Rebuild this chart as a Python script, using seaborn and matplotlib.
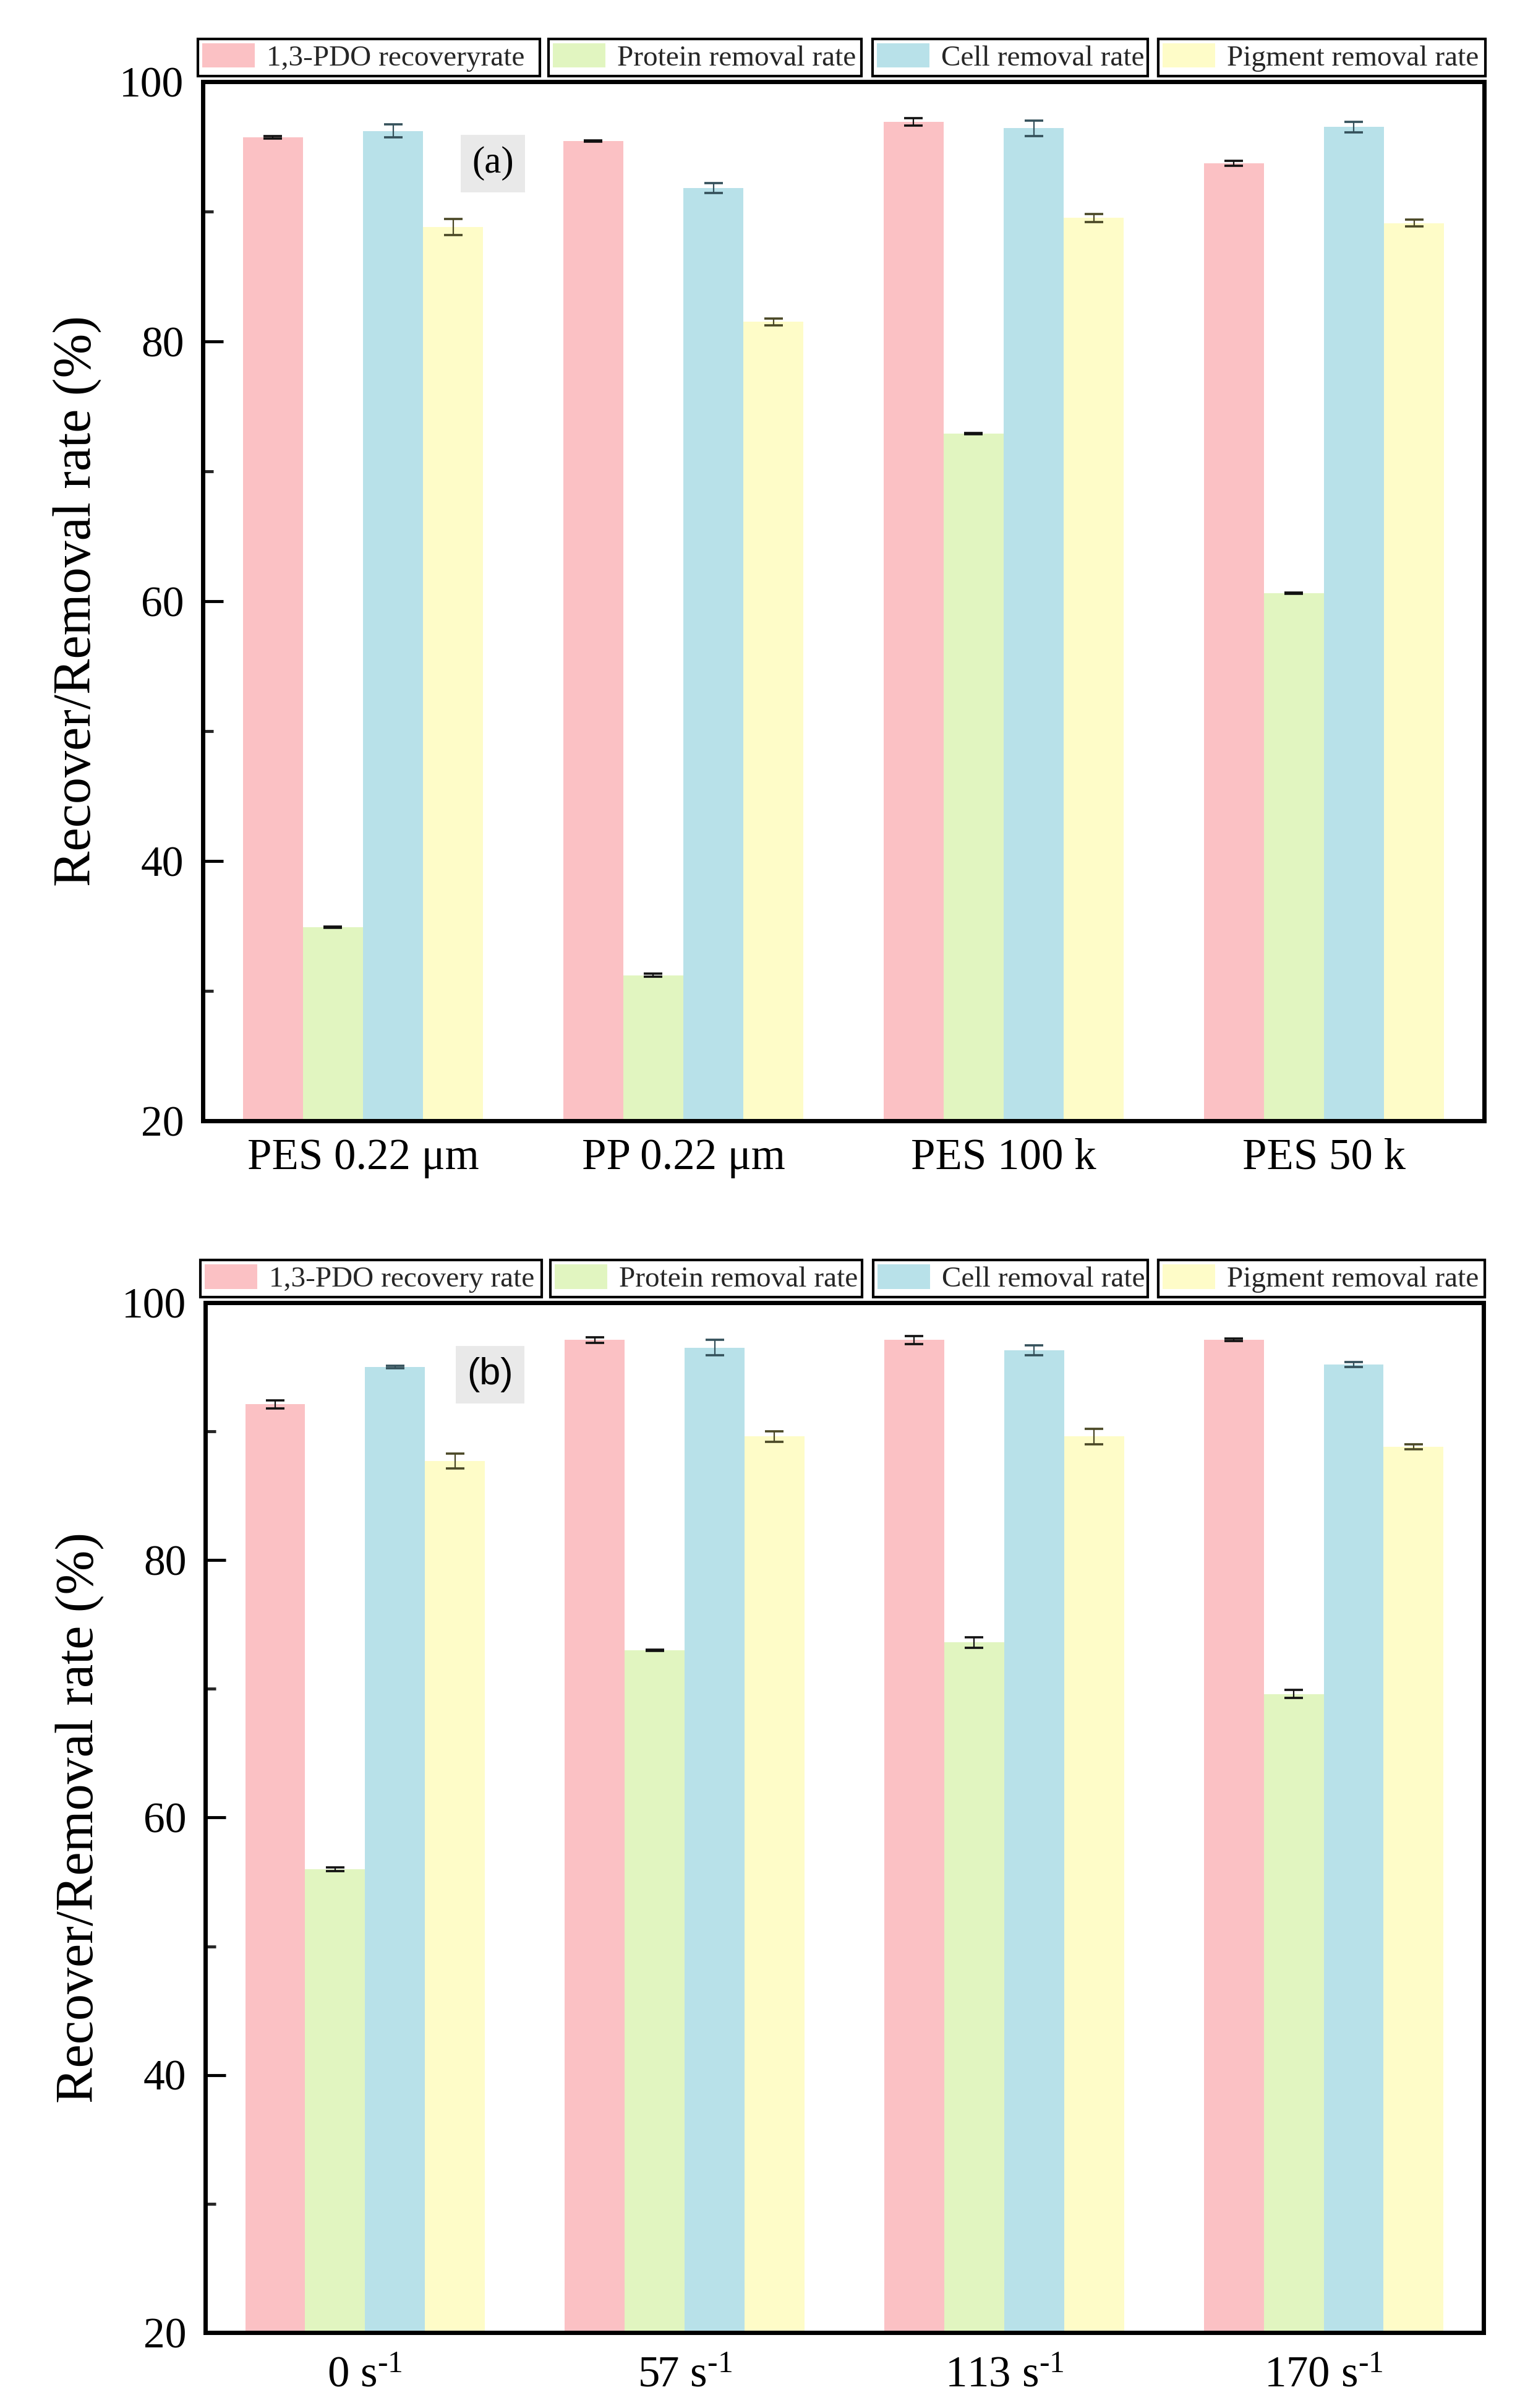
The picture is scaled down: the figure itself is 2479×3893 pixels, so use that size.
import matplotlib
matplotlib.use("Agg")
import pandas as pd
import matplotlib.pyplot as plt
from matplotlib.patches import Patch
from matplotlib.ticker import MultipleLocator
import seaborn as sns

# series names / colours
series = ["1,3-PDO recovery rate", "Protein removal rate", "Cell removal rate", "Pigment removal rate"]
legend_a = ["1,3-PDO recoveryrate", "Protein removal rate", "Cell removal rate", "Pigment removal rate"]
legend_b = ["1,3-PDO recovery rate", "Protein removal rate", "Cell removal rate", "Pigment removal rate"]
bar_colors = ["#fbc1c4", "#e1f5c0", "#b8e1e9", "#fefcc8"]
err_colors = ["#111111", "#111111", "#34505a", "#4a4826"]

# panel (a): membrane type
membranes = ["PES 0.22 μm", "PP 0.22 μm", "PES 100 k", "PES 50 k"]
pdo_a = [95.7, 95.4, 96.9, 93.7]
pdo_err_a = [0.1, 0.05, 0.3, 0.2]
protein_a = [34.9, 31.2, 72.9, 60.6]
protein_err_a = [0.05, 0.1, 0.05, 0.05]
cell_a = [96.2, 91.8, 96.4, 96.5]
cell_err_a = [0.5, 0.4, 0.6, 0.4]
pigment_a = [88.8, 81.5, 89.5, 89.1]
pigment_err_a = [0.6, 0.25, 0.3, 0.25]

# panel (b): shear rate
shear = [r"0 s$^{\text{-}1}$", r"57 s$^{\text{-}1}$",
         r"113 s$^{\text{-}1}$", r"170 s$^{\text{-}1}$"]
pdo_b = [92.1, 97.1, 97.1, 97.1]
pdo_err_b = [0.3, 0.2, 0.3, 0.1]
protein_b = [56.0, 73.0, 73.6, 69.6]
protein_err_b = [0.15, 0.05, 0.4, 0.3]
cell_b = [95.0, 96.5, 96.3, 95.2]
cell_err_b = [0.1, 0.6, 0.4, 0.2]
pigment_b = [87.7, 89.6, 89.6, 88.8]
pigment_err_b = [0.6, 0.4, 0.6, 0.2]

sns.set_theme(style="ticks")
plt.rcParams["font.family"] = ["Liberation Serif", "DejaVu Serif"]
plt.rcParams["mathtext.fontset"] = "custom"
plt.rcParams["mathtext.rm"] = "Liberation Serif"
plt.rcParams["mathtext.it"] = "Liberation Serif:italic"
plt.rcParams["axes.edgecolor"] = "black"


def draw_panel(ax, cats, vals, errs, labels, tag, tag_family, tag_pos, xpad):
    rows = []
    for s, v in zip(series, vals):
        for c, y in zip(cats, v):
            rows.append({"cat": c, "series": s, "value": y})
    df = pd.DataFrame(rows)
    sns.barplot(data=df, x="cat", y="value", hue="series", order=cats, hue_order=series,
                palette=bar_colors, saturation=1, width=0.75, errorbar=None,
                linewidth=0, legend=False, ax=ax)

    # error bars on top of each bar
    bar_groups = list(ax.containers)
    for i, cont in enumerate(bar_groups):
        xs = [b.get_x() + b.get_width() / 2 for b in cont]
        hs = [b.get_height() for b in cont]
        ax.errorbar(xs, hs, yerr=errs[i], fmt="none", ecolor=err_colors[i],
                    elinewidth=1.6, capsize=11, capthick=2.6, zorder=5)

    ax.set_ylim(20, 100)
    ax.set_xlim(-0.5, 3.5)
    ax.yaxis.set_major_locator(MultipleLocator(20))
    ax.yaxis.set_minor_locator(MultipleLocator(10))
    ax.tick_params(axis="y", which="major", direction="in", length=24, width=3.5,
                   labelsize=50, pad=22, colors="black")
    ax.tick_params(axis="y", which="minor", direction="in", length=12, width=3.5)
    ax.tick_params(axis="x", length=0, labelsize=51, pad=xpad, colors="black")
    for sp in ax.spines.values():
        sp.set_visible(True)
        sp.set_linewidth(5)
        sp.set_color("black")
    ax.set_xlabel("")
    ax.set_ylabel("Recover/Removal rate (%)", fontsize=62, labelpad=20, color="black")

    # four separate boxed legend entries above the axes
    boxes = [(-0.004, 0.267), (0.270, 0.244), (0.5225, 0.215), (0.7455, 0.2555)]
    for i, (x0, w) in enumerate(boxes):
        h = Patch(facecolor=bar_colors[i], edgecolor="none")
        leg = ax.legend(handles=[h], labels=[labels[i]], loc="lower left",
                        bbox_to_anchor=(x0, 1.0052, w, 0.04), mode="expand",
                        borderaxespad=0, fontsize=34, frameon=True, fancybox=False,
                        framealpha=1, edgecolor="black", borderpad=0.15,
                        handlelength=1.8, handleheight=0.9, handletextpad=0.4)
        leg.get_frame().set_linewidth(3)
        ax.add_artist(leg)

    ax.text(tag_pos[0], tag_pos[1], tag, transform=ax.transAxes, ha="center", va="center",
            fontsize=44, family=tag_family, color="black",
            bbox=dict(boxstyle="square,pad=0.3", facecolor="#e9e9e9", edgecolor="none"))


fig = plt.figure(figsize=(24.79, 38.93), dpi=100)
ax_a = fig.add_axes([0.1323, 0.5346, 0.8358, 0.43155])
ax_b = fig.add_axes([0.1339, 0.03134, 0.8338, 0.42769])

draw_panel(ax_a, membranes, [pdo_a, protein_a, cell_a, pigment_a],
           [pdo_err_a, protein_err_a, cell_err_a, pigment_err_a],
           legend_a, "(a)", ["Liberation Serif"], (0.2263, 0.921), 20)
draw_panel(ax_b, shear, [pdo_b, protein_b, cell_b, pigment_b],
           [pdo_err_b, protein_err_b, cell_err_b, pigment_err_b],
           legend_b, "(b)", ["Liberation Sans"], (0.223, 0.930), 27)

fig.savefig("out.png", dpi=100, facecolor="white")
